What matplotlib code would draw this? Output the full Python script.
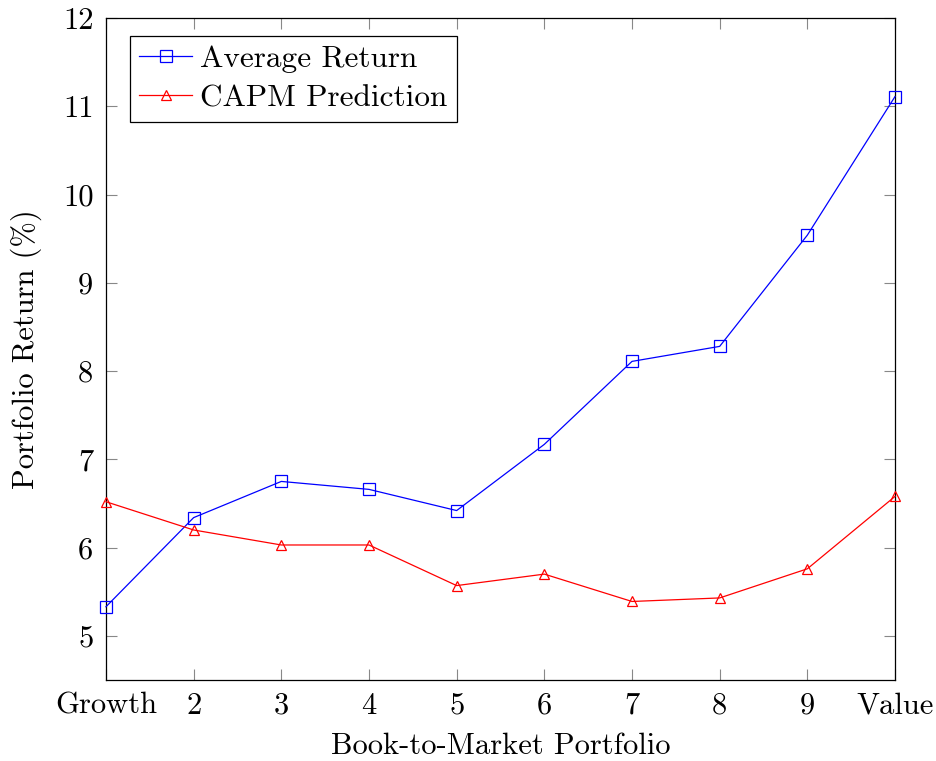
import matplotlib
matplotlib.use("Agg")
import matplotlib.pyplot as plt

plt.rcParams['font.family'] = ['cmr10', 'DejaVu Serif']
plt.rcParams['axes.formatter.use_mathtext'] = True
plt.rcParams['mathtext.fontset'] = 'cm'

categories = ['Growth', '2', '3', '4', '5', '6', '7', '8', '9', 'Value']
avg_return = [5.33, 6.34, 6.75, 6.66, 6.42, 7.17, 8.11, 8.28, 9.54, 11.11]
capm_pred = [6.52, 6.20, 6.03, 6.03, 5.57, 5.70, 5.39, 5.43, 5.76, 6.58]
yticks = [5, 6, 7, 8, 9, 10, 11, 12]

fig = plt.figure(figsize=(9.36, 7.61), dpi=100)
ax = fig.add_axes([0.1132, 0.1064, 0.8430, 0.8699])
x = list(range(len(categories)))
ax.plot(x, avg_return, color='blue', lw=0.9, marker='s', markersize=8,
        markerfacecolor='none', markeredgecolor='blue', markeredgewidth=0.9,
        label='Average Return', clip_on=False, zorder=3)
ax.plot(x, capm_pred, color='red', lw=0.9, marker='^', markersize=7,
        markerfacecolor='none', markeredgecolor='red', markeredgewidth=0.9,
        label='CAPM Prediction', clip_on=False, zorder=3)

ax.set_xlim(0, len(categories) - 1)
ax.set_ylim(4.5, 12)
ax.set_xticks(x)
ax.set_xticklabels(categories)
ax.set_yticks(yticks)
ax.set_yticklabels([str(v) for v in yticks])
ax.tick_params(direction='in', length=8, width=0.8, color='#888888',
               labelsize=22, top=True, right=True, pad=9)
for s in ax.spines.values():
    s.set_linewidth(0.9)
ax.set_xlabel('Book-to-Market Portfolio', fontsize=22, labelpad=9)
ax.set_ylabel('Portfolio Return (%)', fontsize=22, labelpad=15)

leg = ax.legend(loc='upper left', bbox_to_anchor=(24 / 789, 1 - 18 / 662),
                fontsize=22.5, frameon=True, fancybox=False,
                edgecolor='black', framealpha=1, borderaxespad=0,
                handlelength=1.7, handletextpad=0.25, borderpad=0.3,
                labelspacing=0.35)
leg.get_frame().set_linewidth(0.9)

fig.savefig('out.png', dpi=100)
